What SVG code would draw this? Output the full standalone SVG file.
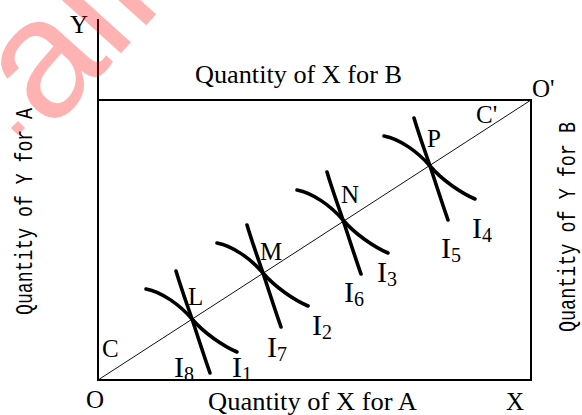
<svg xmlns="http://www.w3.org/2000/svg" xmlns:xlink="http://www.w3.org/1999/xlink" width="582" height="415" viewBox="0 0 582 415">
<style>
.frame{stroke:#000;stroke-width:2;fill:none}
.diag{stroke:#111;stroke-width:1;fill:none}
.ic{stroke:#000;stroke-width:3.6;fill:none;stroke-linecap:round}
.t{font-family:"Liberation Serif","Times New Roman",serif;font-size:25px;fill:#000}
.ti{font-family:"Liberation Serif","Times New Roman",serif;font-size:30px;fill:#000}
.sub{font-size:20px}
.v{font-family:"Liberation Mono","Courier New",monospace;font-size:24px;fill:#000}
.wm{font-family:"Liberation Sans",Arial,sans-serif;font-size:170px;fill:#ff0000;fill-opacity:0.3}
</style>
<defs>
<path id="ca" d="M -46,-30 C -30,-27 -12,-14 0,0 S 31,27 45,33"/>
<path id="cb" d="M -16,-48 C -10,-28 -4,-12 0,0 S 12,37 18,54"/>
</defs>
<rect width="582" height="415" fill="#fff"/>
<g id="axes">
<line class="frame" x1="98" y1="19" x2="98" y2="381"/>
<line class="frame" x1="97" y1="380" x2="532" y2="380"/>
<line class="frame" x1="98" y1="100" x2="532" y2="100"/>
<line class="frame" x1="531" y1="99" x2="531" y2="381"/>
<text class="t" x="70" y="33">Y</text>
<text class="t" x="86" y="408">O</text>
<text class="t" x="506" y="410">X</text>
<text class="t" x="532" y="97">O'</text>
<text class="t" x="195" y="83" textLength="207" lengthAdjust="spacingAndGlyphs">Quantity of X for B</text>
<text class="t" x="208" y="410" textLength="209" lengthAdjust="spacingAndGlyphs">Quantity of X for A</text>
<text class="v" transform="translate(32,315) rotate(-90)" textLength="207" lengthAdjust="spacingAndGlyphs">Quantity of Y for A</text>
<text class="v" transform="translate(575,332) rotate(-90)" textLength="210" lengthAdjust="spacingAndGlyphs">Quantity of Y for B</text>
</g>
<g id="connectors">
<line class="diag" x1="98" y1="380" x2="531" y2="100"/>
<text class="t" x="102" y="357">C</text>
<text class="t" x="476" y="123">C'</text>
</g>
<g id="L">
<use xlink:href="#ca" class="ic" transform="translate(192,319)"/>
<use xlink:href="#cb" class="ic" transform="translate(192,319)"/>
<text class="t" x="188" y="305">L</text>
<text class="ti" x="174" y="377">I<tspan class="sub" dy="4">8</tspan></text>
<text class="ti" x="232" y="377">I<tspan class="sub" dy="4">1</tspan></text>
</g>
<g id="M">
<use xlink:href="#ca" class="ic" transform="translate(263,273)"/>
<use xlink:href="#cb" class="ic" transform="translate(263,273)"/>
<text class="t" x="260" y="260">M</text>
<text class="ti" x="267" y="357">I<tspan class="sub" dy="4">7</tspan></text>
<text class="ti" x="312" y="335">I<tspan class="sub" dy="4">2</tspan></text>
</g>
<g id="N">
<use xlink:href="#ca" class="ic" transform="translate(343,220)"/>
<use xlink:href="#cb" class="ic" transform="translate(343,220)"/>
<text class="t" x="341" y="203">N</text>
<text class="ti" x="344" y="302">I<tspan class="sub" dy="4">6</tspan></text>
<text class="ti" x="377" y="282">I<tspan class="sub" dy="4">3</tspan></text>
</g>
<g id="P">
<use xlink:href="#ca" class="ic" transform="translate(430,166)"/>
<use xlink:href="#cb" class="ic" transform="translate(430,166)"/>
<text class="t" x="427" y="147">P</text>
<text class="ti" x="441" y="258">I<tspan class="sub" dy="4">5</tspan></text>
<text class="ti" x="472" y="238">I<tspan class="sub" dy="4">4</tspan></text>
</g>
<g id="watermark">
<text class="wm" transform="translate(50,132) rotate(-48)">all</text>
<rect x="-5" y="-5" width="10" height="10" fill="#ff0000" fill-opacity="0.3" transform="translate(18,128) rotate(45)"/>
</g>
</svg>
